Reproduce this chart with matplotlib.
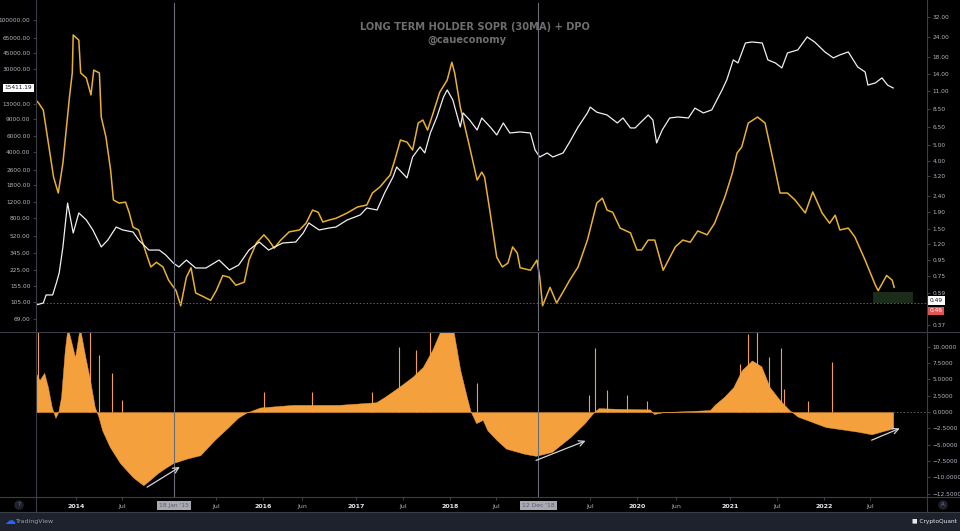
"""
LTH SOPR (30MA) + DPO, TradingView-style dark chart.
Saves out.png (960x531).
"""
import matplotlib
matplotlib.use("Agg")
import matplotlib.pyplot as plt
from matplotlib.lines import Line2D
from matplotlib.patches import Rectangle
from matplotlib.ticker import NullLocator

# ---------- data (time as decimal years) ----------
price_t = [2013.57, 2013.65, 2013.68, 2013.75, 2013.79, 2013.82, 2013.86, 2013.89, 2013.91, 2013.97,
           2014.03, 2014.11, 2014.18, 2014.27, 2014.34, 2014.43, 2014.50, 2014.61, 2014.67, 2014.78,
           2014.89, 2014.96, 2015.04, 2015.10, 2015.18, 2015.28, 2015.39, 2015.53, 2015.64, 2015.74,
           2015.85, 2015.96, 2016.06, 2016.21, 2016.35, 2016.43, 2016.49, 2016.60, 2016.71, 2016.78,
           2016.90, 2017.04, 2017.11, 2017.22, 2017.30, 2017.39, 2017.43, 2017.54, 2017.60, 2017.68,
           2017.73, 2017.79, 2017.86, 2017.93, 2017.97, 2018.03, 2018.11, 2018.14, 2018.21, 2018.29,
           2018.34, 2018.43, 2018.50, 2018.57, 2018.64, 2018.75, 2018.86, 2018.91, 2018.96, 2019.04,
           2019.10, 2019.21, 2019.28, 2019.37, 2019.47, 2019.50, 2019.57, 2019.68, 2019.79, 2019.85,
           2019.93, 2019.98, 2020.12, 2020.17, 2020.21, 2020.27, 2020.35, 2020.44, 2020.55, 2020.62,
           2020.71, 2020.80, 2020.91, 2020.96, 2021.03, 2021.08, 2021.16, 2021.23, 2021.34, 2021.40,
           2021.48, 2021.55, 2021.61, 2021.72, 2021.82, 2021.90, 2022.01, 2022.10, 2022.17, 2022.26,
           2022.36, 2022.44, 2022.47, 2022.55, 2022.62, 2022.68, 2022.74]
price = [97, 102, 124, 124, 166, 212, 399, 769, 1160, 560,
         912, 769, 603, 399, 472, 648, 603, 574, 472, 370,
         370, 328, 270, 245, 290, 239, 239, 290, 228, 257,
         370, 450, 370, 439, 450, 560, 715, 603, 633, 648,
         769, 869, 1030, 981, 1480, 2190, 2790, 2140, 3560, 4550,
         3930, 6390, 9430, 15300, 18200, 14300, 7390, 10400, 8770, 6870,
         9200, 7390, 6090, 8150, 6390, 6550, 6390, 4220, 3560, 3930,
         3560, 3930, 5130, 7390, 10400, 12000, 10600, 9900, 8150, 9200,
         7220, 7220, 9900, 8770, 5010, 6870, 9200, 9430, 9200, 11700,
         10400, 11200, 18200, 23200, 37800, 35100, 57100, 58500, 57100, 37800,
         35100, 31100, 44800, 48200, 66100, 58500, 45900, 39700, 42700, 45900,
         31900, 28200, 20500, 21600, 24400, 20500, 19100]

sopr_t = [2013.57, 2013.60, 2013.65, 2013.71, 2013.76, 2013.81, 2013.86, 2013.93, 2013.96, 2013.97,
          2014.03, 2014.05, 2014.11, 2014.16, 2014.19, 2014.25, 2014.27, 2014.32, 2014.37, 2014.40,
          2014.46, 2014.53, 2014.57, 2014.61, 2014.67, 2014.75, 2014.80, 2014.86, 2014.93, 2014.99,
          2015.07, 2015.12, 2015.18, 2015.23, 2015.28, 2015.36, 2015.44, 2015.50, 2015.57, 2015.64,
          2015.71, 2015.80, 2015.85, 2015.93, 2016.01, 2016.06, 2016.12, 2016.19, 2016.28, 2016.39,
          2016.46, 2016.53, 2016.59, 2016.64, 2016.71, 2016.78, 2016.90, 2017.01, 2017.11, 2017.17,
          2017.25, 2017.36, 2017.41, 2017.47, 2017.54, 2017.60, 2017.66, 2017.71, 2017.76, 2017.82,
          2017.89, 2017.97, 2018.02, 2018.05, 2018.11, 2018.16, 2018.21, 2018.29, 2018.34, 2018.37,
          2018.43, 2018.50, 2018.56, 2018.62, 2018.67, 2018.72, 2018.75, 2018.86, 2018.93, 2018.96,
          2018.99, 2019.07, 2019.14, 2019.21, 2019.28, 2019.37, 2019.47, 2019.57, 2019.63, 2019.68,
          2019.74, 2019.82, 2019.93, 2020.00, 2020.05, 2020.12, 2020.19, 2020.28, 2020.41, 2020.49,
          2020.57, 2020.65, 2020.75, 2020.83, 2020.94, 2021.02, 2021.07, 2021.12, 2021.19, 2021.29,
          2021.37, 2021.44, 2021.53, 2021.61, 2021.69, 2021.80, 2021.88, 2021.98, 2022.06, 2022.12,
          2022.17, 2022.26, 2022.33, 2022.44, 2022.55, 2022.58, 2022.67, 2022.73, 2022.75]
sopr = [9.66, 9.24, 8.35, 4.89, 3.16, 2.51, 3.88, 10.1, 14.3, 24.8,
        23.0, 14.3, 13.3, 10.4, 14.9, 14.3, 7.55, 5.65, 3.50, 2.27,
        2.17, 2.20, 1.88, 1.53, 1.47, 1.05, 0.86, 0.92, 0.86, 0.71,
        0.61, 0.49, 0.74, 0.85, 0.59, 0.56, 0.53, 0.61, 0.76, 0.74,
        0.66, 0.69, 0.95, 1.22, 1.37, 1.27, 1.13, 1.27, 1.43, 1.47,
        1.62, 1.96, 1.90, 1.65, 1.70, 1.74, 1.88, 2.05, 2.11, 2.51,
        2.74, 3.26, 4.05, 5.41, 5.25, 4.68, 6.92, 7.23, 6.25, 8.00,
        10.8, 12.9, 16.7, 14.3, 8.72, 6.53, 4.89, 3.03, 3.40, 3.16,
        1.88, 0.99, 0.86, 0.91, 1.15, 1.05, 0.85, 0.82, 0.95, 0.74,
        0.49, 0.64, 0.51, 0.60, 0.71, 0.86, 1.27, 2.17, 2.33, 1.96,
        1.90, 1.51, 1.41, 1.10, 1.10, 1.27, 1.27, 0.82, 1.15, 1.27,
        1.23, 1.45, 1.37, 1.62, 2.37, 3.35, 4.48, 4.89, 6.92, 7.55,
        6.92, 4.48, 2.51, 2.51, 2.27, 1.88, 2.55, 1.88, 1.62, 1.82,
        1.47, 1.51, 1.33, 0.95, 0.66, 0.61, 0.76, 0.71, 0.64]

dpo_t = [2013.57, 2013.61, 2013.66, 2013.70, 2013.74, 2013.78, 2013.81, 2013.84, 2013.88, 2013.91,
         2013.99, 2014.04, 2014.10, 2014.15, 2014.20, 2014.24, 2014.28, 2014.36, 2014.47, 2014.61,
         2014.72, 2014.79, 2014.87, 2014.95, 2015.04, 2015.19, 2015.33, 2015.48, 2015.63, 2015.73,
         2015.82, 2015.97, 2016.32, 2016.81, 2017.21, 2017.30, 2017.45, 2017.60, 2017.71, 2017.81,
         2017.90, 2017.96, 2018.03, 2018.11, 2018.18, 2018.22, 2018.28, 2018.35, 2018.40, 2018.50,
         2018.60, 2018.80, 2018.92, 2019.09, 2019.29, 2019.44, 2019.54, 2019.59, 2019.79, 2020.14,
         2020.18, 2020.29, 2020.78, 2020.83, 2020.93, 2021.03, 2021.12, 2021.23, 2021.33, 2021.42,
         2021.53, 2021.63, 2021.72, 2021.87, 2022.02, 2022.17, 2022.36, 2022.51, 2022.66, 2022.74]
dpo = [6.0, 4.9, 6.0, 3.8, 0.8, -0.9, 0.0, 2.3, 9.5, 13.0,
       8.4, 13.0, 8.4, 4.9, 0.8, -0.7, -2.8, -5.3, -7.8, -10.0,
       -11.2, -10.4, -9.4, -8.6, -7.8, -7.1, -6.6, -4.3, -2.3, -0.9,
       -0.1, 0.7, 1.1, 1.1, 1.5, 2.3, 3.8, 5.4, 6.9, 9.5,
       12.5, 13.0, 13.0, 6.4, 2.3, 0.1, -1.7, -1.2, -2.8, -4.3,
       -5.6, -6.4, -6.7, -6.1, -3.8, -1.7, 0.0, 0.6, 0.5, 0.4,
       -0.3, 0.0, 0.3, 1.1, 2.3, 3.8, 6.4, 7.9, 7.0, 3.8,
       1.8, 0.3, -0.7, -1.5, -2.3, -2.6, -3.0, -3.4, -2.8, -2.5]

# single-day DPO spikes
spike_t = [2013.59, 2014.15, 2014.25, 2014.39, 2014.49, 2016.01, 2016.52, 2017.17, 2017.45, 2017.64,
           2017.79, 2018.29, 2019.49, 2019.55, 2019.68, 2019.89, 2020.11, 2021.10, 2021.19, 2021.28,
           2021.41, 2021.54, 2021.57, 2021.83, 2022.09]
spike_v = [13.0, 13.0, 8.7, 6.0, 1.8, 3.1, 3.1, 3.1, 10.0, 9.5,
           13.0, 4.4, 2.6, 9.8, 3.4, 2.6, 1.7, 7.4, 12.0, 13.0,
           8.4, 9.8, 3.6, 1.7, 7.6]

# axis ticks
price_ticks = [100000, 65000, 45000, 30000, 13000, 9000, 6000, 4000, 2600, 1800,
               1200, 800, 520, 345, 225, 155, 105, 69]
sopr_ticks = [32, 24, 18, 14, 11, 8.5, 6.5, 5, 4, 3.2, 2.4, 1.9, 1.5, 1.2, 0.95, 0.75, 0.59, 0.37]
dpo_ticks = [10, 7.5, 5, 2.5, 0, -2.5, -5, -7.5, -10, -12.5]
xtick_pos = [2014.0, 2014.496, 2015.496, 2016.0, 2016.415, 2017.0, 2017.496, 2018.0,
             2018.496, 2019.496, 2020.0, 2020.415, 2021.0, 2021.496, 2022.0, 2022.496]
xtick_lbl = ["2014", "Jul", "Jul", "2016", "Jun", "2017", "Jul", "2018",
             "Jul", "Jul", "2020", "Jun", "2021", "Jul", "2022", "Jul"]

# marked dates
marks_t = [2015.047, 2018.945]
marks_lbl = ["18 Jan '15", "12 Dec '18"]

LEVEL = 0.51                      # dotted horizontal level on SOPR scale
last_price_lbl = "15411.19"

# ---------- styling ----------
BG = "#000000"
FRAME = "#3b3e47"
TXT = "#b2b5be"
YELLOW = "#e9b12f"
ORANGE = "#f4a03c"
WHITE = "#f0f0f0"

XMIN, XMAX = 2013.572, 2023.102
W, H = 960, 531


def fx(px):
    return px / W


def fy(py):
    return 1 - py / H


fig = plt.figure(figsize=(9.6, 5.31), dpi=100, facecolor=BG)

ax_p = fig.add_axes([fx(36), fy(331), fx(927) - fx(36), fy(3) - fy(331)])
ax_r = ax_p.twinx()
ax_d = fig.add_axes([fx(36), fy(497), fx(927) - fx(36), fy(333) - fy(497)], sharex=ax_p)

# white price above yellow SOPR
ax_p.set_zorder(ax_r.get_zorder() + 1)
ax_p.patch.set_visible(False)
ax_r.patch.set_facecolor(BG)
ax_d.patch.set_facecolor(BG)

for a in (ax_p, ax_r, ax_d):
    for s in a.spines.values():
        s.set_visible(False)

# ---- top panel ----
ax_r.plot(sopr_t, sopr, color=YELLOW, lw=1.1)
ax_p.plot(price_t, price, color=WHITE, lw=0.9)

ax_p.set_yscale("log")
ax_r.set_yscale("log")
ax_p.set_ylim(51.6, 151000)
ax_r.set_ylim(0.340, 39.4)
ax_p.set_xlim(XMIN, XMAX)

ax_p.yaxis.set_minor_locator(NullLocator())
ax_r.yaxis.set_minor_locator(NullLocator())
ax_p.set_yticks(price_ticks)
ax_p.set_yticklabels([f"{v:.2f}" for v in price_ticks])
ax_r.set_yticks(sopr_ticks)
ax_r.set_yticklabels([f"{v:.2f}" for v in sopr_ticks])
ax_p.tick_params(axis="y", colors=TXT, labelsize=4.2, length=2, pad=2, color=FRAME)
ax_r.tick_params(axis="y", colors=TXT, labelsize=4.2, length=2, pad=2, color=FRAME)
ax_p.tick_params(axis="x", bottom=False, labelbottom=False)

ax_r.axhline(LEVEL, color="#5d606b", ls=(0, (1.5, 2)), lw=0.7)
ax_r.add_patch(Rectangle((2022.52, LEVEL), 0.43, 0.09, fc="#1b2c1b", ec="none"))

# axis value boxes
ax_p.text(-0.004, price[-1], last_price_lbl, transform=ax_p.get_yaxis_transform(),
          ha="right", va="center", fontsize=4.2, color="#131722",
          bbox=dict(boxstyle="square,pad=0.3", fc="white", ec="none"), clip_on=False)
ax_r.text(1.003, 0.53, "0.49", transform=ax_r.get_yaxis_transform(),
          ha="left", va="center", fontsize=4.2, color="#131722",
          bbox=dict(boxstyle="square,pad=0.3", fc="white", ec="none"), clip_on=False)
ax_r.text(1.003, 0.455, "0.46", transform=ax_r.get_yaxis_transform(),
          ha="left", va="center", fontsize=4.2, color="white",
          bbox=dict(boxstyle="square,pad=0.3", fc="#e25555", ec="none"), clip_on=False)

# ---- DPO panel ----
ax_d.fill_between(dpo_t, 0, dpo, color=ORANGE, lw=0.3)
ax_d.vlines(spike_t, 0, spike_v, color=ORANGE, lw=0.8)
ax_d.hlines(0, dpo_t[-1], XMAX, color="#5d606b", ls=(0, (1.5, 2)), lw=0.7)
ax_d.set_ylim(-13.0, 12.1)
ax_d.set_xlim(XMIN, XMAX)
ax_d.yaxis.tick_right()
ax_d.set_yticks(dpo_ticks)
ax_d.set_yticklabels([f"{v:.4f}".replace("-", "\u2212") for v in dpo_ticks])
ax_d.tick_params(axis="y", colors=TXT, labelsize=4.2, length=2, pad=2, color=FRAME)

ax_d.set_xticks(xtick_pos)
ax_d.set_xticklabels(xtick_lbl)
ax_d.tick_params(axis="x", colors=TXT, labelsize=4.5, length=2, pad=3, color=FRAME)
for lbl in ax_d.get_xticklabels():
    if lbl.get_text().isdigit():
        lbl.set_fontweight("bold")
        lbl.set_color("#e6e8ee")

# arrows drawn on the DPO recoveries
arrows = [((2014.76, -11.5), (2015.11, -8.4)),
          ((2018.92, -7.4), (2019.45, -4.4)),
          ((2022.51, -4.3), (2022.81, -2.5))]
for (t0, v0), (t1, v1) in arrows:
    ax_d.annotate("", xy=(t1, v1), xytext=(t0, v0), annotation_clip=False,
                  arrowprops=dict(arrowstyle="->", color="#d1d4dc", lw=0.9,
                                  shrinkA=0, shrinkB=0))

# vertical date markers
for t, lbl in zip(marks_t, marks_lbl):
    ax_p.axvline(t, color="#6a6d78", lw=0.8)
    ax_d.axvline(t, color="#6a6d78", lw=0.8)
    ax_d.text(t, -0.05, lbl, transform=ax_d.get_xaxis_transform(), ha="center", va="center",
              fontsize=4.3, color="#5d606b",
              bbox=dict(boxstyle="square,pad=0.35", fc="#a7aab2", ec="none"), clip_on=False)

# ---- frame, footer, title ----
fig.add_artist(Rectangle((0, 0), 1, fy(512), transform=fig.transFigure,
                         fc="#1e222d", ec="none", zorder=0))
for py in (332, 497, 512):
    fig.add_artist(Line2D([0, 1], [fy(py), fy(py)], transform=fig.transFigure,
                          color=FRAME, lw=0.8))
for px in (36, 927):
    fig.add_artist(Line2D([fx(px), fx(px)], [fy(512), 1], transform=fig.transFigure,
                          color=FRAME, lw=0.8))

fig.text(fx(475), fy(27), "LONG TERM HOLDER SOPR (30MA) + DPO", ha="center", va="center",
         color="#6e6e6e", fontsize=7.1, fontweight="bold")
fig.text(fx(467), fy(40), "@caueconomy", ha="center", va="center",
         color="#6e6e6e", fontsize=7.1, fontweight="bold")

fig.text(fx(19), fy(505), "?", ha="center", va="center", fontsize=4, color="#787b86",
         bbox=dict(boxstyle="circle,pad=0.4", fc="#1e222d", ec="none"))
fig.text(fx(943), fy(505), "A", ha="center", va="center", fontsize=4, color="#787b86",
         bbox=dict(boxstyle="circle,pad=0.4", fc="#1e222d", ec="none"))
fig.text(fx(4), fy(521), "\u2601", ha="left", va="center", fontsize=8, color="#2962ff")
fig.text(fx(16), fy(521), "TradingView", ha="left", va="center", fontsize=4.5, color="#9aa0ab")
fig.text(fx(957), fy(522), "\u25a0 CryptoQuant", ha="right", va="center", fontsize=4.2,
         color="#e6e8ee")

fig.savefig("out.png", dpi=100, facecolor=BG)
print("Saved out.png")
